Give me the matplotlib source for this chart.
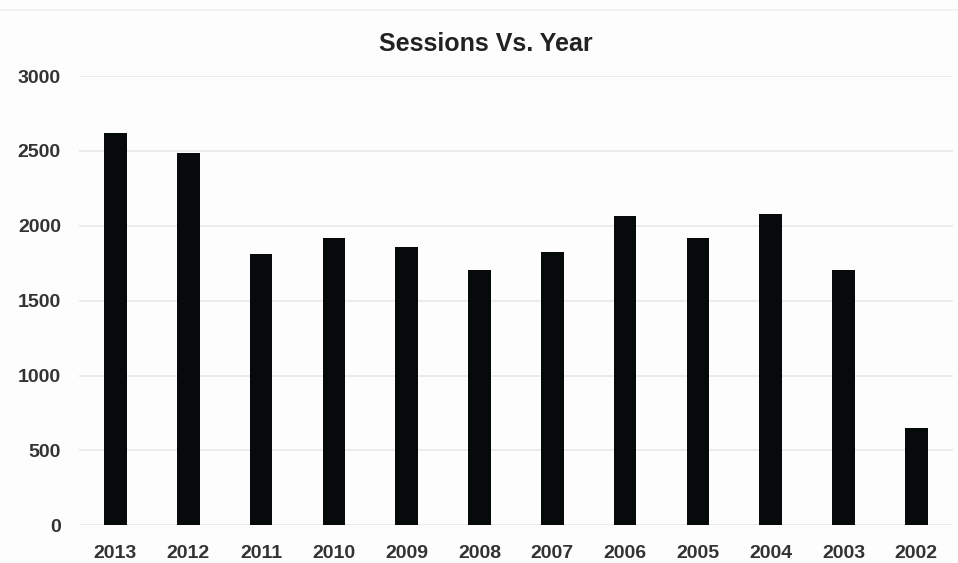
import matplotlib.pyplot as plt
from matplotlib.lines import Line2D

# Sessions per year
years = ["2013", "2012", "2011", "2010", "2009", "2008",
         "2007", "2006", "2005", "2004", "2003", "2002"]
sessions = [2621, 2485, 1813, 1918, 1858, 1704,
            1822, 2065, 1916, 2076, 1702, 652]
y_ticks = [0, 500, 1000, 1500, 2000, 2500, 3000]

plt.rcParams['font.family'] = ['Liberation Sans', 'DejaVu Sans']

fig = plt.figure(figsize=(9.58, 5.63), dpi=100, facecolor='#fdfdfd')
ax = fig.add_axes([0.0825, 0.067, 0.912, 0.798])
ax.set_facecolor('#fdfdfd')

ax.bar(range(len(years)), sessions, width=0.31, color='#070a0a', zorder=3)

ax.set_xlim(-0.5, len(years) - 0.5)
ax.set_ylim(0, 3000)
ax.set_yticks(y_ticks)
ax.set_xticks(range(len(years)))
ax.set_xticklabels(years)

# light horizontal grid, no frame
ax.grid(axis='y', color='#ebebeb', linewidth=1.4, zorder=0)
for s in ax.spines.values():
    s.set_visible(False)
ax.tick_params(axis='both', length=0, labelsize=14, labelcolor='#333333')
ax.tick_params(axis='x', pad=14)
ax.tick_params(axis='y', pad=13)
for lbl in ax.get_xticklabels() + ax.get_yticklabels():
    lbl.set_fontweight('bold')

fig.text(0.507, 0.922, "Sessions Vs. Year", ha='center', va='center',
         fontsize=18, fontweight='bold', color='#222222')

# faint rule along the top edge
fig.add_artist(Line2D([0, 1], [0.982, 0.982], color='#f0f0f0', linewidth=1.2,
                      transform=fig.transFigure))

fig.savefig('out.png', dpi=100, facecolor=fig.get_facecolor())
